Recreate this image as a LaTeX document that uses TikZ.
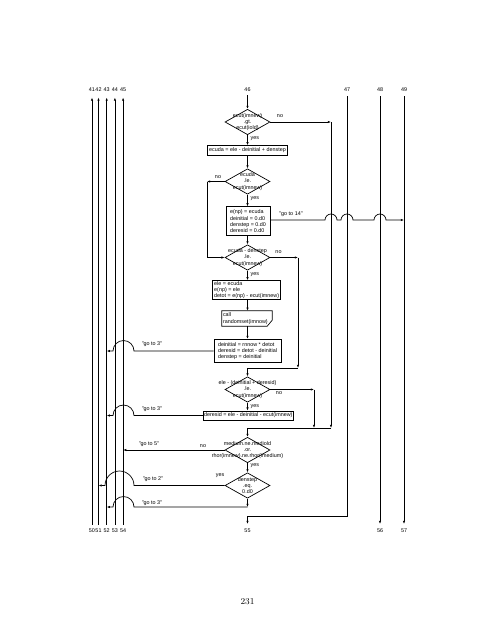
\documentclass[tikz,border=0pt]{standalone}
\usepackage{fontspec}
\newfontfamily\diag{Liberation Sans}
\usetikzlibrary{arrows.meta,shapes.geometric,calc}
\begin{document}
\begin{tikzpicture}[x=1pt,y=-1pt,
  lw/.style={line width=0.7pt},
  every node/.style={font=\diag\fontsize{5.4}{6.2}\selectfont, inner sep=0pt},
  arr/.style={lw,-{Latex[length=3.2pt,width=2.4pt]}},
  dia/.style={diamond, draw, lw, minimum width=45pt, minimum height=25.4pt, inner sep=0pt},
  dtext/.style={align=center},
  box/.style={draw, lw, align=left},
]
\useasboundingbox (0,0) rectangle (495,640);

% ---------- connector labels ----------
\foreach \n/\x in {41/92,42/98.5,43/106.7,44/114.9,45/123.1,46/247.5,47/347,48/380,49/404}
  \node (l\n) at (\x,90) {\n};
\foreach \n/\x in {50/92,51/98.5,52/106.7,53/114.9,54/123.1,55/247.5,56/380,57/404}
  \node (l\n) at (\x,531) {\n};

% ---------- coordinates ----------
\foreach \n/\x in {41/92,42/98.5,43/106.7,44/114.9,45/123.1}{
  \coordinate (t\n) at (\x,97.5);
  \coordinate (s\n) at (\x,524.5);
}
\coordinate (t46) at (247.5,95);
\coordinate (t47) at (347,96);
\coordinate (t48) at (380,96);
\coordinate (t49) at (404,96);
\coordinate (e55) at (247.5,524);
\coordinate (e56) at (380,524);
\coordinate (e57) at (404,524);

% ---------- main column ----------
\node[dia] (d1) at (247.5,122) {};
\node[dtext] (d1t) at (d1) {ecut(imnew)\\.gt.\\ecut(iold)};
\node[box, minimum width=80pt, minimum height=9.3pt] (b1) at (247.5,150.3) {ecuda = ele - deinitial + denstep};
\node[dia] (d2) at (247.5,181.5) {};
\node[dtext] (d2t) at (d2) {ecuda\\.le.\\ecut(imnew)};
\node[box, minimum width=44pt, minimum height=29pt] (b2) at (248,221.2) {e(np) = ecuda\\deinitial = 0.d0\\denstep = 0.d0\\deresid = 0.d0};
\node[dia] (d3) at (247.5,257.5) {};
\node[dtext] (d3t) at (d3) {ecuda - denstep\\.le.\\ecut(imnew)};
\node[box, minimum width=68pt, minimum height=18.7pt] (b3) at (246.7,290) {ele = ecuda\\e(np) = ele\\detot = e(np) - ecut(imnew)};
\node[minimum width=50pt, minimum height=15pt, align=left, text width=48pt] (call) at (247,318.5) {call\\randomset(imnow)};
\draw[lw] (call.north west) -- (call.north east) -- ($(call.south east)+(0,-6)$) -- ($(call.south east)+(-5,0)$) -- (call.south west) -- cycle;
\node[box, minimum width=67pt, minimum height=23.4pt] (b4) at (247.5,351) {deinitial = rnnow * detot\\deresid = detot - deinitial\\denstep = deinitial};
\node[dia] (d4) at (247.5,389.5) {};
\node[dtext] (d4t) at (d4) {ele - (deinitial + deresid)\\.le.\\ecut(imnew)};
\node[box, minimum width=90pt, minimum height=9pt] (b5) at (248.3,415.5) {deresid = ele - deinitial - ecut(imnew)};
\node[dia] (d5) at (247.5,450) {};
\node[dtext] (d5t) at (d5) {medium.ne.mediold\\.or.\\rhor(imnew).ne.rhor(imedium)};
\node[dia] (d6) at (247.5,485.5) {};
\node[dtext] (d6t) at (d6) {denstep\\.eq.\\0.d0};

% ---------- yes / no labels ----------
\node[anchor=west] (y1) at (250.5,138.5) {yes};
\node[anchor=west] (y2) at (250.5,199) {yes};
\node[anchor=west] (y3) at (250.5,274.5) {yes};
\node[anchor=west] (y4) at (250.5,406.5) {yes};
\node[anchor=west] (y5) at (250.5,466) {yes};
\node (y6) at (220,476) {yes};
\node (n1l) at (280,116.5) {no};
\node (n2l) at (218,177) {no};
\node (n3l) at (278.5,252) {no};
\node (n4l) at (279,393.5) {no};
\node (n5l) at (203,446) {no};

% ---------- go to labels ----------
\node (g14l) at (291,214.3) {"go to 14"};
\node (g3al) at (152,344) {"go to 3"};
\node (g3bl) at (152,409) {"go to 3"};
\node (g5l) at (149,444) {"go to 5"};
\node (g2l) at (153,479) {"go to 2"};
\node (g3cl) at (152,503) {"go to 3"};

% ---------- pass-through lines ----------
\foreach \n in {41,42,43,44,45}
  \draw[arr] (s\n) -- (t\n);
\draw[arr] (t48) -- (e56);
\draw[arr] (t49) -- (e57);
\coordinate (n7) at (347,516);
\draw[arr] (t47) -- (n7) -- (n7 -| e55) -- (e55);

% ---------- main flow ----------
\draw[arr] (t46) -- (d1.north);
\draw[arr] (d1.south) -- (d1.south |- b1.north);
\draw[arr] (d2.south |- b1.south) -- (d2.north);
\draw[arr] (d2.south) -- (d2.south |- b2.north);
\draw[arr] (d3.north |- b2.south) -- (d3.north);
\draw[arr] (d3.south) -- (d3.south |- b3.north);
\draw[arr] (d3.south |- b3.south) -- (d3.south |- call.north);
\draw[arr] (d3.south |- call.south) -- (d3.south |- b4.north);
\draw[arr] (d4.south) -- (d4.south |- b5.north);
\draw[arr] (d5.south) -- (d6.north);

% first diamond "no"
\coordinate (c1) at (331,122);
\coordinate (c2) at (331,428);
\draw[arr] (d1.east) -- (c1);
\draw[arr] (c1) -- (c2);
\draw[arr] (c2) -- (c2 -| d5.north) -- (d5.north);

% second diamond "no"
\coordinate (c3) at (207,181.5);
\draw[arr] (d2.west) -- (c3);
\draw[arr] (c3) -- (c3 |- d3.west) -- (d3.west);

% third diamond "no"
\coordinate (c4) at (298,257.5);
\coordinate (c5) at (298,368);
\draw[arr] (d3.east) -- (c4);
\draw[arr] (c4) -- (c5);
\draw[arr] (c5) -- (c5 -| d4.north) -- (d4.north);

% fourth diamond "no"
\coordinate (c6) at (314,389.5);
\draw[arr] (d4.east) -- (c6);
\draw[arr] (c6) -- (c6 |- c2);

% go to 14
\coordinate (g14) at (404,220);
\draw[arr] (b2.east |- g14) -- (325,220) arc[start angle=180,end angle=360,radius=6]
  -- (341,220) arc[start angle=180,end angle=360,radius=6]
  -- (374,220) arc[start angle=180,end angle=360,radius=6] -- (g14);

% go to 3 (a)
\coordinate (g3a) at (106.7,351);
\draw[arr] (b4.west) -- (134,351) arc[start angle=0,end angle=-180,radius=10.5] -- (g3a);
% go to 3 (b)
\coordinate (g3b) at (106.7,415.5);
\draw[arr] (b5.west) -- (134,415.5) arc[start angle=0,end angle=-180,radius=10.5] -- (g3b);
% go to 5
\coordinate (g5) at (123.1,450);
\draw[arr] (d5.west) -- (g5);
% go to 2
\coordinate (g2) at (98.5,485.5);
\draw[arr] (d6.west) -- (134,485.5) arc[start angle=0,end angle=-180,radius=14.5] -- (g2);
% go to 3 (c)
\coordinate (c8) at (247.5,507);
\coordinate (g3c) at (106.7,507);
\draw[arr] (d6.south) -- (c8);
\draw[arr] (c8) -- (134,507) arc[start angle=0,end angle=-180,radius=10.5] -- (g3c);

% page number
\node[font=\rmfamily\fontsize{9}{11}\selectfont] (pg) at (247.5,602) {231};
\end{tikzpicture}
\end{document}
